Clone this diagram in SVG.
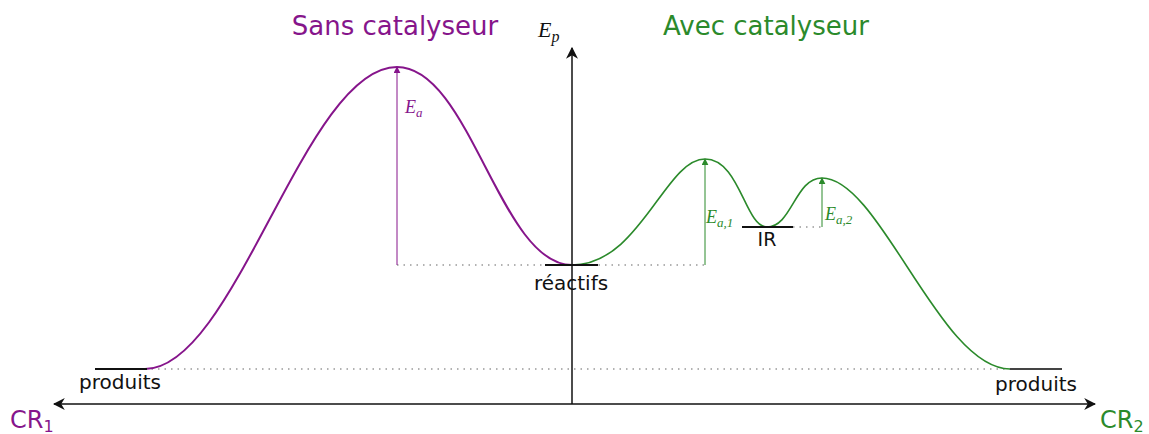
<svg xmlns="http://www.w3.org/2000/svg" width="1149" height="434" viewBox="0 0 1149 434">
<style>
.sans{font-family:"DejaVu Sans","Verdana",sans-serif}
.it{font-family:"Liberation Serif","DejaVu Serif",serif;font-style:italic}
.pur{fill:#86158b}
.grn{fill:#2b8a2b}
.blk{fill:#111}
.dot{stroke:#999;stroke-width:1.5;stroke-dasharray:1.5 5;fill:none}
</style>
<defs>
<marker id="ah" viewBox="0 0 10 10" refX="9" refY="5" markerWidth="12" markerHeight="12" markerUnits="userSpaceOnUse" orient="auto"><path d="M0,0 L10,5 L0,10 L3,5 Z" fill="#111"/></marker>
<marker id="ap" viewBox="0 0 10 10" refX="9" refY="5" markerWidth="7" markerHeight="7" markerUnits="userSpaceOnUse" orient="auto"><path d="M0,0 L10,5 L0,10 Z" fill="#86158b"/></marker>
<marker id="ag" viewBox="0 0 10 10" refX="9" refY="5" markerWidth="7" markerHeight="7" markerUnits="userSpaceOnUse" orient="auto"><path d="M0,0 L10,5 L0,10 Z" fill="#2b8a2b"/></marker>
</defs>
<g id="connectors">
<path class="dot" d="M397,265 H705"/>
<path class="dot" d="M145,369 H1010"/>
<path class="dot" d="M793,227 H822"/>
<line x1="572" y1="404" x2="572" y2="48" stroke="#111" stroke-width="1.5" marker-end="url(#ah)"/>
<line x1="572" y1="404" x2="54" y2="404" stroke="#111" stroke-width="1.5" marker-end="url(#ah)"/>
<line x1="572" y1="404" x2="1095" y2="404" stroke="#111" stroke-width="1.5" marker-end="url(#ah)"/>
<path d="M145,369 C235,369 305,67 397,67 C470,67 500,265 572,265" fill="none" stroke="#86158b" stroke-width="2"/>
<path d="M572,265 C640,265 665,159 705,159 C740,159 745,227 767,227 C792,227 795,178 822,178 C880,178 940,369 1010,369" fill="none" stroke="#2b8a2b" stroke-width="1.6"/>
<line x1="397" y1="265" x2="397" y2="67" stroke="#86158b" stroke-width="1" marker-end="url(#ap)"/>
<line x1="705" y1="265" x2="705" y2="159" stroke="#2b8a2b" stroke-width="1" marker-end="url(#ag)"/>
<line x1="822" y1="227" x2="822" y2="178" stroke="#2b8a2b" stroke-width="1" marker-end="url(#ag)"/>
</g>
<g id="levels" stroke="#111" stroke-width="2">
<line x1="95" y1="369" x2="147" y2="369"/>
<line x1="545" y1="265" x2="598" y2="265"/>
<line x1="742" y1="227" x2="793" y2="227"/>
<line x1="1010" y1="369" x2="1062" y2="369" stroke="#444"/>
</g>
<g id="labels">
<text class="sans pur" x="395" y="35" font-size="26" text-anchor="middle">Sans catalyseur</text>
<text class="sans grn" x="766" y="35" font-size="26" text-anchor="middle">Avec catalyseur</text>
<text class="it blk" x="538" y="37" font-size="22">E<tspan font-size="16" dy="5">p</tspan></text>
<text class="it pur" x="405" y="113" font-size="18">E<tspan font-size="13" dy="4">a</tspan></text>
<text class="it grn" x="706" y="223" font-size="18">E<tspan font-size="13" dy="4">a,1</tspan></text>
<text class="it grn" x="825" y="220" font-size="18">E<tspan font-size="13" dy="4">a,2</tspan></text>
<text class="sans blk" x="767" y="246" font-size="19" text-anchor="middle">IR</text>
<text class="sans blk" x="571" y="290" font-size="20" text-anchor="middle">réactifs</text>
<text class="sans blk" x="120" y="389" font-size="20" text-anchor="middle">produits</text>
<text class="sans blk" x="1036" y="391" font-size="20" text-anchor="middle">produits</text>
<text class="sans pur" x="10" y="428" font-size="24">CR<tspan font-size="16" dy="4">1</tspan></text>
<text class="sans grn" x="1100" y="428" font-size="24">CR<tspan font-size="16" dy="4">2</tspan></text>
</g>
</svg>
